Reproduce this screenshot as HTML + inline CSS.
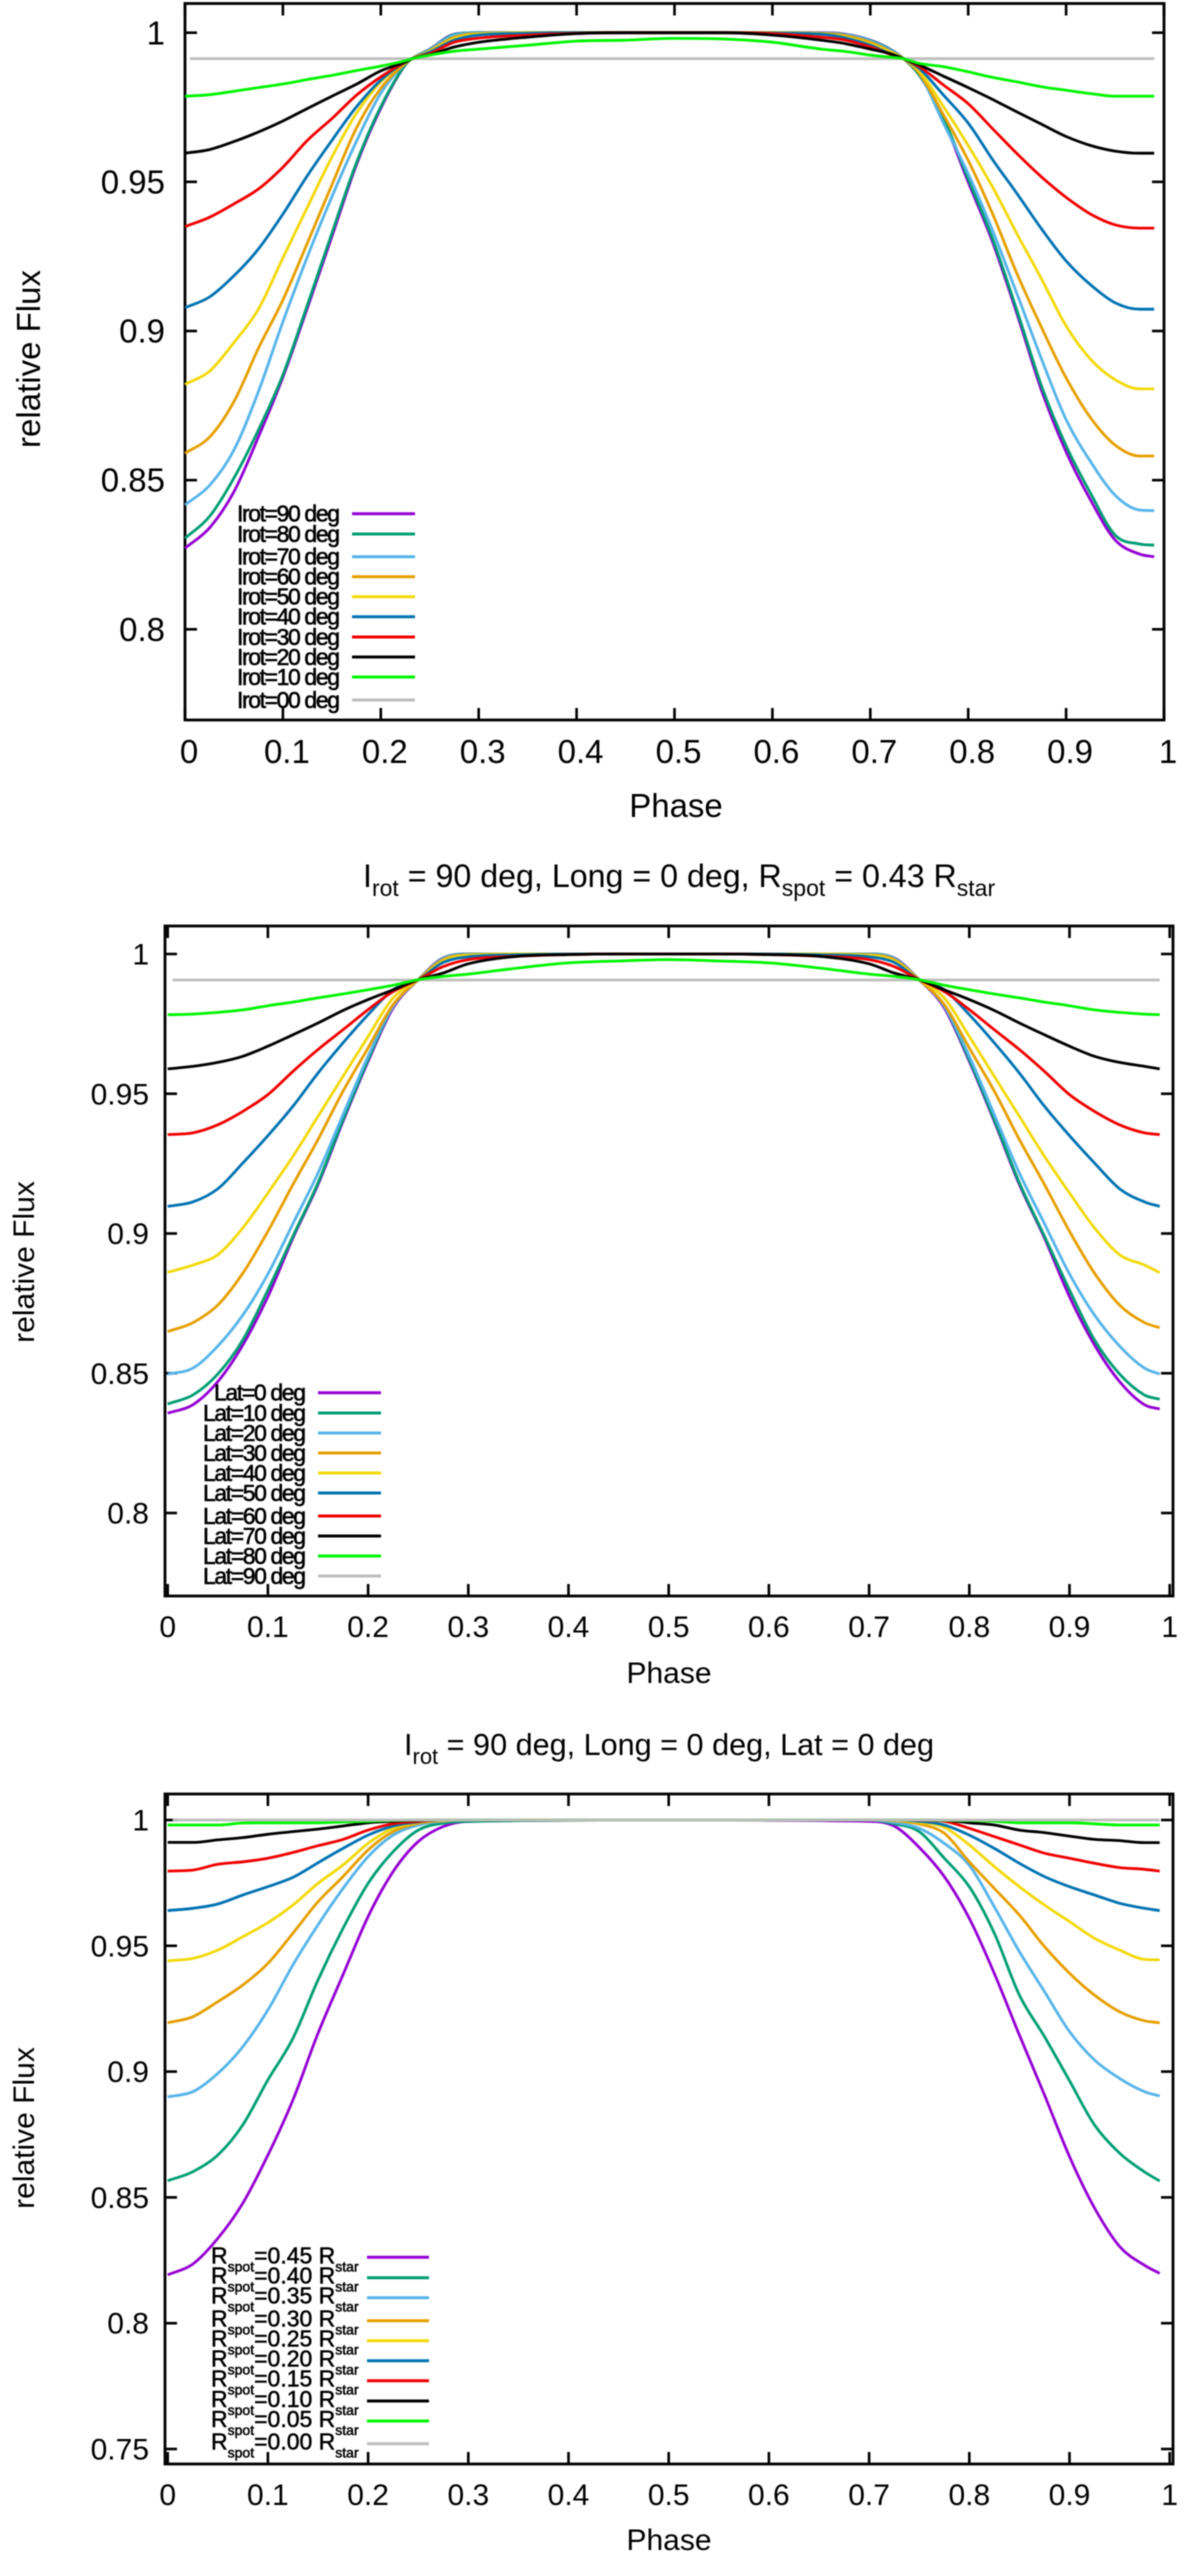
<!DOCTYPE html>
<html lang="en">
<head>
<meta charset="utf-8">
<title>Relative flux light curves</title>
<style>
html,body{margin:0;padding:0;background:#fff;}
svg{display:block;filter:blur(0.45px);}
text{font-family:"Liberation Sans",sans-serif;fill:#000;}
</style>
</head>
<body>
<svg id="chart" xmlns="http://www.w3.org/2000/svg" width="1200" height="2563" viewBox="0 0 1200 2563">
<rect x="0" y="0" width="1200" height="2563" fill="#fff"/>
<text x="363" y="887" font-size="32.2">I<tspan dy="9" font-size="23">rot</tspan><tspan dy="-9"> = 90 deg, Long = 0 deg, R</tspan><tspan dy="9" font-size="23">spot</tspan><tspan dy="-9"> = 0.43 R</tspan><tspan dy="9" font-size="23">star</tspan></text>
<text x="404" y="1755" font-size="30.6">I<tspan dy="9" font-size="22">rot</tspan><tspan dy="-9"> = 90 deg, Long = 0 deg, Lat = 0 deg</tspan></text>
</svg>
<script>
// ---------- shared axis values ----------
const xTicks = [0, 0.1, 0.2, 0.3, 0.4, 0.5, 0.6, 0.7, 0.8, 0.9, 1];
const xTickLabels = ["0", "0.1", "0.2", "0.3", "0.4", "0.5", "0.6", "0.7", "0.8", "0.9", "1"];
const yTicksTop = [1, 0.95, 0.9, 0.85, 0.8];
const yTickLabelsTop = ["1", "0.95", "0.9", "0.85", "0.8"];
const yTicksBottom = [1, 0.95, 0.9, 0.85, 0.8, 0.75];
const yTickLabelsBottom = ["1", "0.95", "0.9", "0.85", "0.8", "0.75"];
const seriesColors = ["#9400d3", "#009e73", "#56b4e9", "#e69f00", "#f2d90a", "#0072b2", "#f00000", "#000000", "#00f500", "#bebebe"];

// ---------- top panel: inclination ----------
const phasesA = [0,.025,.05,.075,.1,.125,.15,.175,.2,.225,.232,.25,.275,.3,.35,.4,.45,.5,.55,.6,.65,.675,.7,.72,.734,.75,.775,.8,.825,.85,.875,.9,.925,.95,.975,.99];
const grayPhases = [.005,.99];
const legendA = ["Irot=90 deg","Irot=80 deg","Irot=70 deg","Irot=60 deg","Irot=50 deg","Irot=40 deg","Irot=30 deg","Irot=20 deg","Irot=10 deg","Irot=00 deg"];
const a90 = [.8272,.834,.8461,.8645,.8845,.9077,.9316,.9556,.9747,.9892,.9913,.9945,.9995,1,1,1,1,1,1,1,1,.9995,.9975,.9945,.9913,.9858,.9706,.9499,.9297,.9056,.88,.8595,.8433,.83,.8252,.8243];
const a80 = [.8305,.8378,.8507,.8668,.8853,.9087,.9328,.9563,.9752,.9892,.9913,.9944,.9994,1,1,1,1,1,1,1,.9999,.9994,.9974,.9944,.9913,.9858,.9712,.951,.9308,.9067,.8815,.8615,.8456,.8316,.8286,.8282];
const a70 = [.8417,.8482,.8601,.8797,.9031,.9249,.945,.9635,.9797,.9897,.9913,.9943,.9992,.9999,1,1,1,1,1,1,.9999,.9993,.9972,.9942,.9913,.9864,.9695,.9527,.9336,.9123,.8905,.8703,.8562,.845,.84,.8398];
const a60 = [.859,.8644,.8763,.8942,.9104,.9295,.949,.968,.9814,.9897,.9913,.994,.9985,.9997,1,1,1,1,1,1,.9998,.999,.9968,.9938,.9913,.9864,.9723,.9572,.9392,.9191,.9011,.8843,.8709,.8618,.8581,.8581];
const a50 = [.8821,.8865,.8961,.9073,.9245,.9415,.9583,.9729,.9835,.9902,.9913,.9938,.998,.9995,1,1,1,1,1,1,.9996,.9985,.9962,.9935,.9913,.9872,.9751,.9622,.9482,.9325,.9174,.9017,.8905,.8837,.8806,.8806];
const a40 = [.9078,.9114,.9185,.9275,.9392,.9521,.9639,.9751,.9841,.9902,.9913,.9935,.9975,.9992,.9998,1,1,1,1,.9999,.9995,.9982,.9958,.993,.9913,.988,.979,.9697,.9574,.946,.9342,.9235,.9155,.9095,.9073,.9073];
const a30 = [.935,.9381,.9426,.9476,.9549,.9639,.9712,.979,.9852,.9902,.9913,.993,.9968,.9982,.9992,.9998,1,1,1,.9997,.9985,.9975,.9952,.9928,.9913,.9886,.9824,.9762,.9678,.9594,.9516,.9448,.9392,.9356,.9345,.9345];
const a20 = [.9596,.9608,.9635,.9667,.9704,.9746,.9787,.9827,.9872,.9902,.9913,.9926,.9952,.9968,.9985,.9997,1,1,1,.9992,.9975,.9963,.9945,.993,.9913,.9892,.9854,.9816,.9776,.9734,.9693,.9652,.9622,.9603,.9596,.9596];
const a10 = [.9787,.9792,.9804,.9816,.9828,.9843,.9857,.9873,.9888,.9906,.9913,.9925,.9938,.9945,.9958,.9972,.9975,.9981,.9979,.9968,.9945,.9937,.9925,.9918,.9913,.9897,.9886,.9869,.985,.9835,.9819,.9807,.9796,.9787,.9787,.9787];
const a00 = [.9913,.9913];

// ---------- middle panel: latitude ----------
const phasesB = [0,.025,.05,.075,.1,.125,.15,.175,.2,.225,.25,.275,.3,.35,.4,.45,.5,.55,.6,.65,.7,.725,.75,.775,.8,.825,.85,.875,.9,.925,.95,.975,.99];
const legendB = ["Lat=0 deg","Lat=10 deg","Lat=20 deg","Lat=30 deg","Lat=40 deg","Lat=50 deg","Lat=60 deg","Lat=70 deg","Lat=80 deg","Lat=90 deg"];
const b0 = [.8357,.8387,.847,.8601,.8774,.8984,.9175,.9401,.9616,.9807,.9908,.9986,1,1,1,1,1,1,1,1,1,.9986,.9908,.9807,.9616,.9401,.9175,.8984,.8774,.8601,.847,.8387,.8372];
const b10 = [.839,.8422,.8497,.8619,.8798,.899,.9181,.9407,.9622,.9813,.9908,.9985,1,1,1,1,1,1,1,1,1,.9985,.9908,.9813,.9622,.9407,.9181,.899,.8798,.8619,.8497,.8422,.8407];
const b20 = [.8497,.8518,.8597,.8708,.8855,.9035,.9216,.9425,.9634,.9813,.9908,.9984,.9999,1,1,1,1,1,1,1,.9999,.9984,.9908,.9813,.9634,.9425,.9216,.9035,.8855,.8708,.8597,.8518,.8497];
const b30 = [.8649,.8681,.8744,.8858,.9008,.9175,.9336,.9509,.9664,.9819,.9908,.998,.9997,1,1,1,1,1,1,1,.9997,.998,.9908,.9819,.9664,.9509,.9336,.9175,.9008,.8858,.8744,.8681,.8663];
const b40 = [.8861,.8887,.8924,.902,.9145,.9276,.9419,.9562,.9705,.9843,.9908,.9975,.9995,1,1,1,1,1,1,1,.9995,.9975,.9908,.9843,.9705,.9562,.9419,.9276,.9145,.902,.8924,.8887,.886];
const b50 = [.9097,.9113,.916,.9252,.935,.9455,.9574,.9682,.9783,.9872,.9908,.997,.999,.9997,1,1,1,1,1,.9997,.999,.997,.9908,.9872,.9783,.9682,.9574,.9455,.935,.9252,.916,.9113,.9097];
const b60 = [.9354,.936,.9389,.9437,.9497,.958,.9658,.9729,.9801,.9866,.9908,.9955,.998,.9992,.9998,1,1,1,.9998,.9992,.998,.9955,.9908,.9866,.9801,.9729,.9658,.958,.9497,.9437,.9389,.936,.9354];
const b70 = [.9589,.9598,.9612,.9634,.967,.9711,.9753,.9798,.9837,.9872,.9908,.9932,.9965,.9992,.9998,1,1,1,.9998,.9992,.9965,.9932,.9908,.9872,.9837,.9798,.9753,.9711,.967,.9634,.9612,.9598,.9589];
const b80 = [.9783,.9785,.9791,.98,.9815,.9828,.9843,.9857,.9872,.9888,.9908,.992,.9928,.995,.9968,.9975,.998,.9975,.9968,.995,.9928,.992,.9908,.9888,.9872,.9857,.9843,.9828,.9815,.98,.9791,.9785,.9783];
const b90 = [.9907,.9907];

// ---------- bottom panel: spot radius ----------
const phasesC = [0,.025,.05,.075,.1,.125,.15,.175,.2,.225,.25,.275,.3,.5,.7,.725,.75,.775,.8,.825,.85,.875,.9,.925,.95,.975,.99];
const legendC = ["0.45","0.40","0.35","0.30","0.25","0.20","0.15","0.10","0.05","0.00"];
const c45 = [.8192,.8235,.8337,.8477,.8668,.8887,.9152,.9385,.9616,.9795,.9914,.9974,.9994,1,.9995,.9976,.9891,.9775,.9609,.939,.9145,.8907,.8662,.8458,.8305,.823,.8198];
const c40 = [.8566,.8602,.8668,.8788,.8967,.9132,.9364,.9569,.9748,.9874,.996,.9987,.9995,1,1,.9985,.9954,.9848,.9735,.955,.9304,.9139,.8964,.8788,.8676,.8601,.8565];
const c35 = [.89,.892,.8993,.9099,.9245,.9424,.9583,.9728,.9854,.994,.998,.9995,1,1,1,.999,.9967,.9907,.982,.9655,.9477,.9318,.9159,.9046,.8973,.892,.8903];
const c30 = [.9194,.9218,.9278,.9344,.943,.955,.9675,.9775,.9881,.9954,.9987,.9997,1,1,1,.9997,.9984,.9947,.9834,.9728,.9622,.9497,.9391,.9304,.9238,.9202,.9194];
const c25 = [.944,.945,.9483,.9536,.9592,.9662,.9748,.9821,.9907,.9967,.9991,.9999,1,1,1,.9999,.9991,.9971,.9901,.9815,.9735,.9662,.9596,.953,.9483,.9446,.9444];
const c20 = [.964,.9649,.9666,.9702,.9735,.9772,.983,.9887,.994,.9976,.9993,1,1,1,1,1,.9995,.998,.994,.9887,.9828,.9775,.9735,.9702,.9669,.9649,.964];
const c15 = [.9797,.9801,.9824,.9834,.9848,.9871,.9898,.9923,.996,.9985,.9995,1,1,1,1,1,.9999,.9995,.9967,.9934,.9901,.9868,.9848,.9828,.9811,.9804,.9797];
const c10 = [.9911,.9911,.9921,.993,.9943,.9954,.9964,.9976,.9989,.9995,.9999,1,1,1,1,1,1,.9999,.9989,.998,.996,.995,.9936,.9923,.9918,.991,.991];
const c05 = [.998,.998,.998,.9988,.9989,.9989,.9989,.9992,.9995,.9998,1,1,1,1,1,1,1,.9999,.9998,.9995,.9989,.9989,.9989,.9985,.998,.998,.998];
const c00 = [1,1];

const NS = "http://www.w3.org/2000/svg";
const svg = document.getElementById("chart");

function make(tag, parent) {
  const el = document.createElementNS(NS, tag);
  parent.appendChild(el);
  return el;
}

function drawAxes(g, p, x, y, yTicks, yLabels) {
  const frame = make("rect", g);
  
  
  frame.setAttribute("x", p.left);
  frame.setAttribute("y", p.top);
  frame.setAttribute("width", p.right - p.left);
  frame.setAttribute("height", p.bottom - p.top);
  frame.setAttribute("fill", "none");
  frame.setAttribute("stroke", "#000");
  frame.setAttribute("stroke-width", "2.8");

  xTicks.forEach(function (v, i) {
    [[p.bottom, p.bottom - p.tick], [p.top, p.top + p.tick]].forEach(function (pair) {
      const t = make("line", g);
      
      
      t.setAttribute("x1", x(v));
      t.setAttribute("x2", x(v));
      t.setAttribute("y1", pair[0]);
      t.setAttribute("y2", pair[1]);
      t.setAttribute("stroke", "#000");
      t.setAttribute("stroke-width", "2.6");
    });
    const lab = make("text", g);
    
    
    lab.setAttribute("x", x(v) + p.xLabelShift);
    lab.setAttribute("y", p.xLabelBase);
    lab.setAttribute("font-size", p.font);
    lab.setAttribute("text-anchor", "middle");
    lab.textContent = xTickLabels[i];
  });

  yTicks.forEach(function (v, i) {
    [[p.left, p.left + p.tick], [p.right, p.right - p.tick]].forEach(function (pair) {
      const t = make("line", g);
      
      
      t.setAttribute("y1", y(v));
      t.setAttribute("y2", y(v));
      t.setAttribute("x1", pair[0]);
      t.setAttribute("x2", pair[1]);
      t.setAttribute("stroke", "#000");
      t.setAttribute("stroke-width", "2.6");
    });
    const lab = make("text", g);
    
    
    lab.setAttribute("x", p.yLabelRight);
    lab.setAttribute("y", y(v) + p.font * 0.35);
    lab.setAttribute("font-size", p.font);
    lab.setAttribute("text-anchor", "end");
    lab.textContent = yLabels[i];
  });

  const xt = make("text", g);
  
  
  xt.setAttribute("x", p.xTitleX);
  xt.setAttribute("y", p.xTitleBase);
  xt.setAttribute("font-size", p.font);
  xt.setAttribute("text-anchor", "middle");
  xt.textContent = "Phase";

  const yt = make("text", g);
  
  
  yt.setAttribute("transform", "translate(" + p.yTitleX + "," + p.yTitleY + ") rotate(-90)");
  yt.setAttribute("font-size", p.font);
  yt.setAttribute("text-anchor", "middle");
  yt.textContent = "relative Flux";
}

// Smooth curve through the data points; tangents are clamped so flat stretches do not overshoot.
function curveThrough(xs, ys) {
  const n = xs.length;
  const slope = [];
  for (let i = 0; i < n - 1; i++) { slope.push((ys[i + 1] - ys[i]) / (xs[i + 1] - xs[i])); }
  const tan = [slope[0]];
  for (let i = 1; i < n - 1; i++) {
    const a = slope[i - 1], b = slope[i];
    if (a * b <= 0) { tan.push(0); continue; }
    const mean = (a + b) / 2;
    const limit = 3 * Math.min(Math.abs(a), Math.abs(b));
    tan.push(Math.sign(mean) * Math.min(Math.abs(mean), limit));
  }
  tan.push(slope[n - 2]);
  let d = "M" + xs[0].toFixed(1) + " " + ys[0].toFixed(1);
  for (let i = 0; i < n - 1; i++) {
    const h = (xs[i + 1] - xs[i]) / 3;
    d += "C" + (xs[i] + h).toFixed(1) + " " + (ys[i] + tan[i] * h).toFixed(1) + " " +
         (xs[i + 1] - h).toFixed(1) + " " + (ys[i + 1] - tan[i + 1] * h).toFixed(1) + " " +
         xs[i + 1].toFixed(1) + " " + ys[i + 1].toFixed(1);
  }
  return d;
}

function drawSeries(g, x, y, phases, values, color) {
  const line = make("path", g);
  
  
  const xs = values.map(function (v, i) { return x(phases[i]); });
  const ys = values.map(function (v) { return y(v); });
  line.setAttribute("d", curveThrough(xs, ys));
  line.setAttribute("fill", "none");
  line.setAttribute("stroke", color);
  line.setAttribute("stroke-width", "2.8");
  line.setAttribute("stroke-linejoin", "round");
}

function drawLegendSwatch(g, p, rowY, color) {
  const s = make("line", g);
  
  
  s.setAttribute("x1", p.swatchFrom);
  s.setAttribute("x2", p.swatchTo);
  s.setAttribute("y1", rowY);
  s.setAttribute("y2", rowY);
  s.setAttribute("stroke", color);
  s.setAttribute("stroke-width", "3");
}

// ---------- top panel ----------
(function () {
  const p = { left: 185, right: 1164, top: 3.5, bottom: 720, tick: 12, font: 33, xLabelShift: 4, xLabelBase: 763, yLabelRight: 165, xTitleX: 676, xTitleBase: 817, yTitleX: 40, yTitleY: 359, swatchFrom: 352, swatchTo: 415 };
  const x = function (v) { return 185 + 979 * v; };
  const y = function (v) { return 32.7 + (1 - v) * 2983; };
  const g = make("g", svg);
  
  
  drawAxes(g, p, x, y, yTicksTop, yTickLabelsTop);
  const series = [a90, a80, a70, a60, a50, a40, a30, a20, a10];
  drawSeries(g, x, y, grayPhases, a00, seriesColors[9]);
  series.forEach(function (s, i) { drawSeries(g, x, y, phasesA, s, seriesColors[i]); });
  const rows = [513.7, 534, 556.7, 576.7, 596.7, 616.7, 637, 657, 677, 700];
  legendA.forEach(function (name, i) {
    const t = make("text", g);
    
    
    t.setAttribute("x", 237);
    t.setAttribute("y", rows[i] + 8);
    t.setAttribute("font-size", 23);
    t.setAttribute("stroke", "#000");
    t.setAttribute("stroke-width", "0.6");
    t.setAttribute("textLength", 103);
    t.setAttribute("lengthAdjust", "spacing");
    t.textContent = name;
    drawLegendSwatch(g, p, rows[i], seriesColors[i]);
  });
})();

// ---------- middle panel ----------
(function () {
  const p = { left: 165, right: 1173, top: 926, bottom: 1596, tick: 12, font: 30, xLabelShift: 0, xLabelBase: 1637, yLabelRight: 149, xTitleX: 669, xTitleBase: 1683, yTitleX: 34, yTitleY: 1262, swatchFrom: 318, swatchTo: 381 };
  const x = function (v) { return 167.7 + 1002 * v; };
  const y = function (v) { return 954 + (1 - v) * 2795; };
  const g = make("g", svg);
  
  
  drawAxes(g, p, x, y, yTicksTop, yTickLabelsTop);
  const series = [b0, b10, b20, b30, b40, b50, b60, b70, b80];
  drawSeries(g, x, y, grayPhases, b90, seriesColors[9]);
  series.forEach(function (s, i) { drawSeries(g, x, y, phasesB, s, seriesColors[i]); });
  const rows = [1392.7, 1413, 1433, 1453, 1473, 1493, 1516, 1536, 1556, 1576];
  legendB.forEach(function (name, i) {
    const t = make("text", g);
    
    
    t.setAttribute("x", 306);
    t.setAttribute("y", rows[i] + 8);
    t.setAttribute("font-size", 23);
    t.setAttribute("stroke", "#000");
    t.setAttribute("stroke-width", "0.6");
    t.setAttribute("text-anchor", "end");
    t.setAttribute("textLength", i === 0 ? 92 : 103);
    t.setAttribute("lengthAdjust", "spacing");
    t.textContent = name;
    drawLegendSwatch(g, p, rows[i], seriesColors[i]);
  });
})();

// ---------- bottom panel ----------
(function () {
  const p = { left: 165, right: 1173, top: 1794, bottom: 2464, tick: 12, font: 30, xLabelShift: 0, xLabelBase: 2505, yLabelRight: 149, xTitleX: 669, xTitleBase: 2550, yTitleX: 34, yTitleY: 2128, swatchFrom: 367, swatchTo: 429 };
  const x = function (v) { return 167.7 + 1002 * v; };
  const y = function (v) { return 1820 + (1 - v) * 2516; };
  const g = make("g", svg);
  
  
  drawAxes(g, p, x, y, yTicksBottom, yTickLabelsBottom);
  const series = [c45, c40, c35, c30, c25, c20, c15, c10, c05];
  series.forEach(function (s, i) { drawSeries(g, x, y, phasesC, s, seriesColors[i]); });
  drawSeries(g, x, y, grayPhases, c00, seriesColors[9]);
  const rows = [2257.3, 2277.7, 2297.7, 2320.7, 2340.7, 2360.7, 2380.7, 2401, 2421, 2443.7];
  legendC.forEach(function (radius, i) {
    const t = make("text", g);
    
    
    t.setAttribute("x", 211);
    t.setAttribute("y", rows[i] + 6);
    t.setAttribute("font-size", 23);
    t.setAttribute("stroke", "#000");
    t.setAttribute("stroke-width", "0.5");
    const a = make("tspan", t); a.textContent = "R";
    const b = make("tspan", t); b.setAttribute("font-size", 14); b.setAttribute("dy", 8); b.textContent = "spot";
    const c = make("tspan", t); c.setAttribute("dy", -8); c.textContent = "=" + radius + " R";
    const d = make("tspan", t); d.setAttribute("font-size", 14); d.setAttribute("dy", 8); d.textContent = "star";
    drawLegendSwatch(g, p, rows[i], seriesColors[i]);
  });
})();
</script>
</body>
</html>
